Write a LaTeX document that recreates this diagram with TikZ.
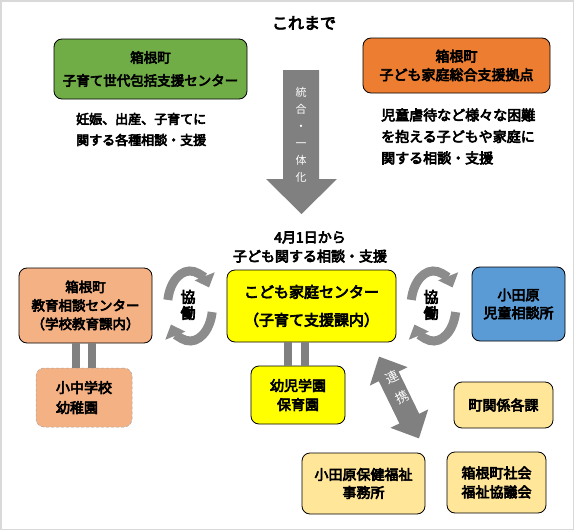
\documentclass[tikz,border=0pt]{standalone}
\usepackage{fontspec}
\setmainfont{Noto Sans CJK JP}[BoldFont={Noto Sans CJK JP}, BoldFeatures={FakeBold=4.5}]
\usetikzlibrary{arrows.meta,calc}
\definecolor{cgreen}{HTML}{70AD47}
\definecolor{corange}{HTML}{ED7D31}
\definecolor{csalmon}{HTML}{F4B183}
\definecolor{cyellow}{HTML}{FFFF00}
\definecolor{cblue}{HTML}{5B9BD5}
\definecolor{clight}{HTML}{FFE699}
\definecolor{cgrey}{HTML}{808080}
\definecolor{ccyc}{HTML}{8C8C8C}
\begin{document}
\begin{tikzpicture}[x=1pt,y=-1pt,
  box/.style={draw=black, line width=0.8pt, rounded corners=8pt, align=center, inner sep=0pt,
    font=\bfseries\fontsize{14}{18}\selectfont},
  plain/.style={align=center, inner sep=0pt, font=\bfseries\fontsize{14}{21}\selectfont},
  bar/.style={draw=cgrey, line width=8pt},
  cyc/.style={draw=ccyc, line width=9pt, -{Triangle[length=12pt,width=21pt]}},
  garrow/.style={fill=cgrey}]
\useasboundingbox (0,0) rectangle (574,530);
\draw[draw=black!15, line width=1.5pt] (0.75,0.75) rectangle (573.25,529.25);

% title
\node[plain, font=\bfseries\fontsize{16}{20}\selectfont] (title) at (304,23) {これまで};

% top boxes
\node[box, fill=cgreen, minimum width=193pt, minimum height=60pt,
  font=\bfseries\fontsize{13.5}{23}\selectfont] (green) at (150.5,69) {箱根町\\子育て世代包括支援センター};
\node[box, fill=corange, minimum width=187pt, minimum height=55pt,
  font=\bfseries\fontsize{14}{18.5}\selectfont] (orange) at (456.5,65.5) {箱根町\\子ども家庭総合支援拠点};

% descriptions
\node[plain, anchor=west, align=left, font=\bfseries\fontsize{13}{21}\selectfont] (ltext) at (76,129.5)
  {妊娠、出産、子育てに\\関する各種相談・支援};
\node[plain, anchor=west, align=left, font=\bfseries\fontsize{14}{21.5}\selectfont] (rtext) at (381,136.5)
  {児童虐待など様々な困難\\を抱える子どもや家庭に\\関する相談・支援};

% merge arrow
\fill[garrow] (283,70) -- (319,70) -- (319,179) -- (337,179) -- (301.5,214) -- (266,179) -- (283,179) -- cycle;
\node[align=center, inner sep=0pt, text=white, font=\fontsize{11}{17}\selectfont] (merge) at (301,134.5)
  {統\\合\\・\\一\\体\\化};

% from April
\node[plain, font=\bfseries\fontsize{14}{19}\selectfont] (from) at (310,247) {4月1日から\\子ども関する相談・支援};

% middle row
\node[box, fill=csalmon, minimum width=133pt, minimum height=75pt,
  font=\bfseries\fontsize{13.5}{18.5}\selectfont] (edu) at (85.5,305.5) {箱根町\\教育相談センター\\（学校教育課内）};
\node[box, fill=cyellow, minimum width=169pt, minimum height=72pt,
  font=\bfseries\fontsize{15}{28}\selectfont] (kodomo) at (311.5,306) {こども家庭センター\\（子育て支援課内）};
\node[box, fill=cblue, minimum width=93pt, minimum height=74pt] (jido) at (518.5,304) {小田原\\児童相談所};

% cooperation circles
\begin{scope}[shift={(190,306)}]
  \draw[cyc] (190:22.5 and 35) arc[start angle=190, end angle=328, x radius=22.5, y radius=35];
  \draw[cyc] (10:22.5 and 35) arc[start angle=10, end angle=148, x radius=22.5, y radius=35];
\end{scope}
\node[plain, font=\bfseries\fontsize{15}{16}\selectfont] (kyo1) at (188,305) {協\\働};
\begin{scope}[shift={(433.5,306)}]
  \draw[cyc] (190:22.5 and 35) arc[start angle=190, end angle=328, x radius=22.5, y radius=35];
  \draw[cyc] (10:22.5 and 35) arc[start angle=10, end angle=148, x radius=22.5, y radius=35];
\end{scope}
\node[plain, font=\bfseries\fontsize{15}{16}\selectfont] (kyo2) at (431,305) {協\\働};

% lower boxes
\node[box, fill=csalmon, draw=black!35, densely dashed, line width=0.5pt, minimum width=96pt, minimum height=59pt,
  align=left, font=\bfseries\fontsize{14}{20}\selectfont] (school) at (84,397.5) {小中学校\\幼稚園};
\node[box, fill=cyellow, minimum width=94pt, minimum height=58pt,
  font=\bfseries\fontsize{14}{19}\selectfont] (kinder) at (298,395) {幼児学園\\保育園};
\node[box, fill=clight, minimum width=99pt, minimum height=46pt] (town) at (503.5,405) {町関係各課};
\node[box, fill=clight, minimum width=123pt, minimum height=61pt] (health) at (363.5,483.5) {小田原保健福祉\\事務所};
\node[box, fill=clight, minimum width=99pt, minimum height=61pt,
  font=\bfseries\fontsize{14}{19}\selectfont] (welfare) at (496.5,482.5) {箱根町社会\\福祉協議会};

% double bars
\draw[bar] ([xshift=-8.3pt]school.north |- edu.south) -- ([xshift=-8.3pt]school.north);
\draw[bar] ([xshift=8.3pt]school.north |- edu.south) -- ([xshift=8.3pt]school.north);
\draw[bar] ([xshift=-10.2pt]kinder.north |- kodomo.south) -- ([xshift=-10.2pt]kinder.north);
\draw[bar] ([xshift=7.3pt]kinder.north |- kodomo.south) -- ([xshift=7.3pt]kinder.north);

% liaison double arrow
\begin{scope}[shift={(399,397.5)}, rotate=26]
  \fill[garrow] (0,-45.5) -- (21,-23.5) -- (11,-23.5) -- (11,23.5) -- (21,23.5) -- (0,45.5)
    -- (-21,23.5) -- (-11,23.5) -- (-11,-23.5) -- (-21,-23.5) -- cycle;
\end{scope}
\node[align=center, inner sep=0pt, text=white, rotate=26, font=\fontsize{13}{22}\selectfont] (renkei) at (397,387) {連\\携};
\end{tikzpicture}
\end{document}
